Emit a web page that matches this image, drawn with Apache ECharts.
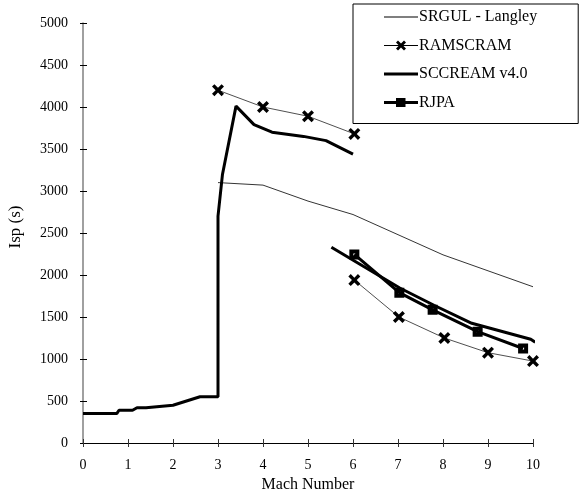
<!DOCTYPE html>
<html>
<head>
<meta charset="utf-8">
<script src="https://cdn.jsdelivr.net/npm/echarts@6/dist/echarts.min.js"></script>
<style>
  html, body { margin: 0; padding: 0; background: #fff; }
  #chart { width: 581px; height: 492px; }
</style>
</head>
<body>
<div id="chart"></div>
<script>
// values, [mach, isp]; '-' breaks a line
var srgul = [[3, 3100], [4, 3070], [5, 2880], [6, 2720], [7, 2480], [8, 2240], [9, 2050], [10, 1860]];
var ramscram = [[3, 4200], [4, 4000], [5, 3890], [6.03, 3680], ['-', '-'],
  [6.03, 1940], [7.02, 1500], [8.03, 1250], [9.0, 1075], [10.0, 975]];
var sccream = [[0, 350], [0.75, 350], [0.8, 390], [1.1, 390], [1.2, 420], [1.4, 420],
  [2.0, 450], [2.6, 550], [3.0, 550], [3.0, 2700], [3.1, 3200], [3.4, 4010], [3.8, 3790],
  [4.2, 3700], [4.9, 3650], [5.4, 3600], [6.0, 3440], ['-', '-'],
  [5.52, 2330], [7.04, 1845], [7.8, 1640], [8.64, 1425], [9.95, 1235], [10.05, 1200]];
var rjpa = [[6.03, 2245], [7.03, 1790], [7.77, 1585], [8.77, 1325], [9.78, 1125]];
var seriesNames = ["SRGUL - Langley", "RAMSCRAM", "SCCREAM v4.0", "RJPA"];

var xMin = 0, xMax = 10, xStep = 1;
var yMin = 0, yMax = 5000, yStep = 500;

var serif = "Liberation Serif";
var xMark = 'path://M0,2 L2,0 L5,3 L8,0 L10,2 L7,5 L10,8 L8,10 L5,7 L2,10 L0,8 L3,5 Z';
// black square with a small white centre
var sqMark = 'path://M0,0 L10,0 L10,10 L0,10 Z M4,4 L4,6 L6,6 L6,4 Z';

// legend icons: line sample with optional marker
var thinLine = 'M0,6.6 L34,6.6 L34,7.4 L0,7.4 Z';
var thickLine = 'M0,5.5 L34,5.5 L34,8.5 L0,8.5 Z';
var legendIcons = [
  'path://' + thinLine,
  'path://' + thinLine + ' M12,4 L14,2 L17,5 L20,2 L22,4 L19,7 L22,10 L20,12 L17,9 L14,12 L12,10 L15,7 Z',
  'path://' + thickLine,
  'path://' + thickLine + ' M12,2.5 L21.5,2.5 L21.5,11.5 L12,11.5 Z'
];

var chart = echarts.init(document.getElementById("chart"));
var option = {
  animation: false,
  backgroundColor: "#fff",
  textStyle: { fontFamily: serif, color: "#000" },
  grid: { left: 83, right: 48, top: 23, bottom: 49, outerBoundsMode: "none", containLabel: false },
  legend: {
    orient: "vertical",
    left: 353,
    top: 4,
    padding: [5, 41, 13, 31],
    itemWidth: 34,
    itemHeight: 14,
    itemGap: 12.5,
    backgroundColor: "#fff",
    borderColor: "#000",
    borderWidth: 1,
    borderRadius: 0,
    textStyle: { fontFamily: serif, fontSize: 16, color: "#000", padding: [0, 0, 0, -4] },
    data: seriesNames.map(function (n, i) {
      return { name: n, icon: legendIcons[i], itemStyle: { color: "#000", borderWidth: 0 } };
    })
  },
  xAxis: [
    {
      type: "value", min: xMin, max: xMax, interval: xStep,
      name: "Mach Number", nameLocation: "middle", nameGap: 24,
      nameTextStyle: { fontFamily: serif, fontSize: 16, color: "#000" },
      axisLine: { lineStyle: { color: "#000", width: 1 } },
      axisTick: { length: 4, lineStyle: { color: "#333" } },
      axisLabel: { fontFamily: serif, fontSize: 14, color: "#000", margin: 15 },
      splitLine: { show: false }
    },
    {
      type: "value", min: xMin, max: xMax, interval: xStep, position: "bottom",
      axisLine: { show: false },
      axisTick: { inside: true, length: 4, lineStyle: { color: "#333" } },
      axisLabel: { show: false },
      splitLine: { show: false }
    }
  ],
  yAxis: [
    {
      type: "value", min: yMin, max: yMax, interval: yStep,
      name: "Isp (s)", nameLocation: "middle", nameGap: 59,
      nameTextStyle: { fontFamily: serif, fontSize: 17, color: "#000", padding: [0, 0, 0, 12] },
      axisLine: { show: true, lineStyle: { color: "#808080", width: 1.5 } },
      axisTick: { show: true, length: 3, lineStyle: { color: "#000" } },
      axisLabel: { fontFamily: serif, fontSize: 14, color: "#000", margin: 15,
        formatter: function (v) { return String(v); } },
      splitLine: { show: false }
    },
    {
      type: "value", min: yMin, max: yMax, interval: yStep, position: "left",
      axisLine: { show: false },
      axisTick: { show: true, inside: true, length: 4, lineStyle: { color: "#000" } },
      axisLabel: { show: false },
      splitLine: { show: false }
    }
  ],
  series: [
    {
      name: seriesNames[0], type: "line", data: srgul,
      symbol: "none", lineStyle: { color: "#000", width: 0.8 }, itemStyle: { color: "#000" }
    },
    {
      name: seriesNames[1], type: "line", data: ramscram, connectNulls: false,
      symbol: xMark, symbolSize: 12,
      lineStyle: { color: "#222", width: 0.8 }, itemStyle: { color: "#000" }
    },
    {
      name: seriesNames[2], type: "line", data: sccream, connectNulls: false,
      symbol: "none", lineStyle: { color: "#000", width: 3 }, itemStyle: { color: "#000" }
    },
    {
      name: seriesNames[3], type: "line", data: rjpa,
      symbol: sqMark, symbolSize: 10,
      lineStyle: { color: "#000", width: 3 },
      itemStyle: { color: "#000" }
    }
  ]
};
chart.setOption(option);
</script>
</body>
</html>
